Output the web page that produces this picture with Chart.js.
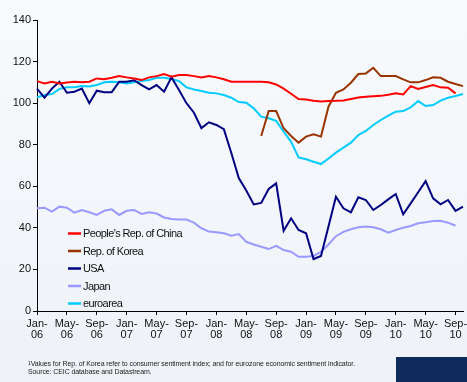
<!DOCTYPE html>
<html>
<head>
<meta charset="utf-8">
<script src="https://cdn.jsdelivr.net/npm/chart.js@4.4.1/dist/chart.umd.min.js"></script>
<style>
    html, body { margin: 0; padding: 0; }
    body {
        width: 467px; height: 382px; overflow: hidden; position: relative;
        background: linear-gradient(#f8fafd, #eef2f7);
        font-family: "Liberation Sans", Arial, sans-serif;
    }
    #chart { position: absolute; left: 0; top: 0; }
    .note {
        position: absolute; left: 28px; font-size: 7px; line-height: 7px;
        color: #222; letter-spacing: -0.1px; white-space: nowrap;
    }
    .note span { font-size: 5px; vertical-align: top; }
    #box { position: absolute; left: 396px; top: 357px; width: 71px; height: 25px; background: #0e2b5c; }
</style>
</head>
<body>
<canvas id="chart" width="467" height="382"></canvas>
<div class="note" style="top:360px"><span>1</span>Values for Rep. of Korea refer to consumer sentiment index; and for eurozone economic sentiment indicator.</div>
<div class="note" style="top:368px">Source: CEIC database and Datastream.</div>
<div id="box"></div>

<script>
// months Jan-06 .. Oct-10
const months = [
    'Jan-06','Feb-06','Mar-06','Apr-06','May-06','Jun-06','Jul-06','Aug-06','Sep-06','Oct-06','Nov-06','Dec-06',
    'Jan-07','Feb-07','Mar-07','Apr-07','May-07','Jun-07','Jul-07','Aug-07','Sep-07','Oct-07','Nov-07','Dec-07',
    'Jan-08','Feb-08','Mar-08','Apr-08','May-08','Jun-08','Jul-08','Aug-08','Sep-08','Oct-08','Nov-08','Dec-08',
    'Jan-09','Feb-09','Mar-09','Apr-09','May-09','Jun-09','Jul-09','Aug-09','Sep-09','Oct-09','Nov-09','Dec-09',
    'Jan-10','Feb-10','Mar-10','Apr-10','May-10','Jun-10','Jul-10','Aug-10','Sep-10','Oct-10'
];

const china = [
    110.6, 109.5, 110.3, 109.5, 109.9, 110.3, 110, 110.3, 111.9, 111.5, 112.2, 113,
    112.4, 111.9, 111.1, 112.4, 113, 114, 112.7, 113.5, 113.5, 113, 112.4, 113,
    112.4, 111.5, 110.3, 110.3, 110.3, 110.3, 110.3, 110, 109, 107, 104.5, 102,
    101.7, 101.2, 100.8, 101, 101.1, 101.3, 102, 102.7, 103.1, 103.3, 103.5, 104,
    104.7, 104.2, 108.2, 106.8, 107.8, 108.7, 107.6, 107.4, 104.7
];

const korea = [
    null, null, null, null, null, null, null, null, null, null, null, null,
    null, null, null, null, null, null, null, null, null, null, null, null,
    null, null, null, null, null, null, 84.2, 96.2, 96.2, 87.9, 84.2, 81,
    83.9, 85, 83.9, 98.3, 105, 106.6, 109.8, 114, 114.3, 117, 113, 113,
    113, 111.4, 110, 110, 111.1, 112.4, 112.2, 110.3, 109.2, 108.2
];

const usa = [
    107, 102.6, 107, 110.3, 105, 105.5, 107, 100, 106, 105.3, 105.3, 110.3,
    110.3, 111, 108.7, 106.6, 108.7, 105.5, 112.4, 106.3, 100, 95.4, 88, 90.8,
    89.5, 87.5, 76, 64, 58, 51.3, 52, 58.7, 61.4, 38.6, 44.6, 39,
    37.4, 25, 26.5, 40.7, 55, 49.4, 47.5, 54.7, 53.4, 48.6, 51, 53.7,
    56.3, 46.5, 51.8, 57.1, 62.5, 54.2, 51.3, 53.4, 48.2, 50.2
];

const japan = [
    49.4, 49.7, 47.8, 50.2, 49.7, 47.3, 48.6, 47.5, 46.2, 48.2, 48.9, 46.2,
    48.2, 48.6, 46.7, 47.5, 46.9, 45, 44.3, 44, 44, 42.5, 39.8, 38.2,
    37.9, 37.4, 36.2, 37, 33.3, 32, 30.9, 29.8, 31.3, 29.3, 28.5, 26.1,
    26.1, 26.5, 28.5, 32, 36, 38.1, 39.3, 40.3, 40.6, 40.3, 39.3, 37.7,
    39, 40.1, 40.9, 42.2, 42.7, 43.3, 43.4, 42.5, 41
];

const euroarea = [
    102.8, 103.9, 104.4, 106.8, 107.6, 107.6, 108.2, 108, 108.7, 110, 110.3, 110,
    109.5, 110, 110.6, 111.1, 112.2, 112.2, 111.6, 110.6, 107.6, 106.6, 105.8, 105,
    104.7, 103.9, 102.6, 100.5, 100.2, 97.5, 93.5, 92.7, 91.5, 86.3, 81.4, 73.9,
    73, 71.8, 70.7, 73.4, 76.2, 78.6, 81, 84.7, 86.6, 89.5, 91.9, 94,
    95.9, 96.2, 98, 101, 98.6, 99.1, 101.2, 102.6, 103.4, 104.4
];

const yTicks = [0, 20, 40, 60, 80, 100, 120, 140];

const series = [
    { label: "People's Rep. of China", data: china, color: '#ff0000' },
    { label: 'Rep. of Korea', data: korea, color: '#993300' },
    { label: 'USA', data: usa, color: '#000080' },
    { label: 'Japan', data: japan, color: '#9999ff' },
    { label: 'euroarea', data: euroarea, color: '#00ccff' }
];

// legend drawn inside the plot, lower left
const insideLegend = {
    id: 'insideLegend',
    afterDraw(chart) {
        const ctx = chart.ctx;
        ctx.save();
        ctx.font = '11px "Liberation Sans", Arial, sans-serif';
        ctx.letterSpacing = '-0.6px';
        ctx.textBaseline = 'middle';
        ctx.fillStyle = '#111';
        chart.data.datasets.forEach((ds, i) => {
            const y = 233.5 + i * 17.5;
            ctx.strokeStyle = ds.borderColor;
            ctx.lineWidth = 2.5;
            ctx.beginPath();
            ctx.moveTo(68, y);
            ctx.lineTo(81, y);
            ctx.stroke();
            ctx.fillText(ds.label, 83, y + 0.5);
        });
        ctx.restore();
    }
};

const ctx = document.getElementById('chart').getContext('2d');
new Chart(ctx, {
    type: 'line',
    data: {
        labels: months,
        datasets: series.map(s => ({
            label: s.label,
            data: s.data,
            borderColor: s.color,
            backgroundColor: s.color,
            borderWidth: 2,
            pointRadius: 0,
            tension: 0,
            spanGaps: false
        }))
    },
    options: {
        responsive: false,
        devicePixelRatio: 1,
        animation: false,
        layout: { padding: { left: 0, right: 3, top: 20, bottom: 0 } },
        plugins: {
            legend: { display: false },
            tooltip: { enabled: false }
        },
        scales: {
            x: {
                afterFit: scale => { scale.height = 71; },
                border: { color: '#000', width: 1 },
                grid: {
                    drawOnChartArea: false,
                    tickLength: 4,
                    tickColor: c => (c.index % 4 === 0 ? '#000' : 'rgba(0,0,0,0)')
                },
                ticks: {
                    autoSkip: false,
                    maxRotation: 0,
                    minRotation: 0,
                    padding: 4,
                    color: '#111',
                    font: { family: '"Liberation Sans Narrow", "Liberation Sans", Arial, sans-serif', size: 11, lineHeight: 0.95 },
                    callback: (v, i) => (i % 4 === 0 ? [months[i].slice(0, 4), months[i].slice(4)] : '')
                }
            },
            y: {
                min: 0,
                max: 140,
                afterFit: scale => { scale.width = 37; },
                afterBuildTicks: scale => { scale.ticks = yTicks.map(v => ({ value: v })); },
                border: { color: '#000', width: 1 },
                grid: { drawOnChartArea: false, tickLength: 4, tickColor: '#000' },
                ticks: {
                    padding: 2,
                    color: '#111',
                    font: { family: '"Liberation Sans", Arial, sans-serif', size: 11 }
                }
            }
        }
    },
    plugins: [insideLegend]
});
</script>
</body>
</html>
